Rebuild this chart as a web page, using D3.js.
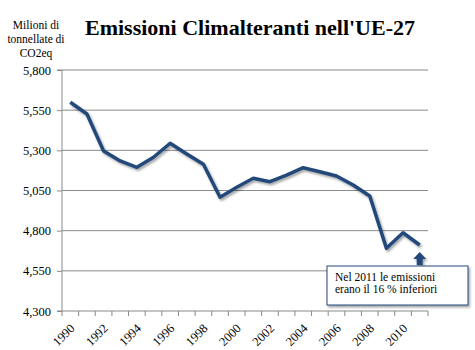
<!DOCTYPE html>
<html>
<head>
<meta charset="utf-8">
<script src="https://cdn.jsdelivr.net/npm/d3@7"></script>
<style>
  body { margin: 0; background: #fff; }
  svg { display: block; }
  svg text { font-family: "Liberation Serif", "Times New Roman", serif; }
</style>
</head>
<body>
<div class="svg_container"></div>
<script>
var years = d3.range(1990, 2012).map(String);
var emissions = [5599, 5526, 5296, 5234, 5194, 5257, 5344, 5277, 5213, 5008, 5070,
                 5126, 5105, 5146, 5192, 5167, 5140, 5084, 5016, 4690, 4787, 4711];
var yTicks = [4300, 4550, 4800, 5050, 5300, 5550, 5800];
var xLabels = ["1990", "1992", "1994", "1996", "1998", "2000", "2002", "2004", "2006", "2008", "2010"];
var titleText = "Emissioni Climalteranti nell'UE-27";
var yTitle = ["Milioni di", "tonnellate di", "CO2eq"];
var note = ["Nel 2011 le emissioni", "erano il 16 % inferiori"];

const WIDTH = 475;
const HEIGHT = 350;
const LEFT = 62, RIGHT = 428, TOP = 70, BOTTOM = 311;
const LINE_COLOR = "#24497a";
const GRID = "#8a8a8a";
const SERIF = '"Liberation Serif", "Times New Roman", serif';

var translate = function (x, y) {
    return "translate(" + x + "," + y + ")";
};

var xScale = d3.scaleBand().domain(years).range([LEFT, RIGHT]);
var xIdx = d3.scaleLinear().domain([0, years.length]).range([LEFT, RIGHT]);
var yScale = d3.scaleLinear().domain([4300, 5800]).range([BOTTOM, TOP]);

var svg = d3.select('.svg_container').append('svg')
    .attr('width', WIDTH)
    .attr('height', HEIGHT)
    .attr('font-family', SERIF);

var defs = svg.append('defs');
var f = defs.append('filter').attr('id', 'shadow')
    .attr('x', '-10%').attr('y', '-10%').attr('width', '130%').attr('height', '130%');
f.append('feDropShadow').attr('dx', 1.5).attr('dy', 2).attr('stdDeviation', 1.3)
    .attr('flood-color', '#000').attr('flood-opacity', 0.35);

// titles
svg.append('text')
    .attr('x', 250).attr('y', 35)
    .attr('text-anchor', 'middle')
    .attr('font-family', SERIF)
    .attr('font-size', 22).attr('font-weight', 'bold')
    .text(titleText);

svg.append('g').selectAll('text').data(yTitle).enter().append('text')
    .attr('x', 36).attr('y', function (d, i) { return 29 + i * 14; })
    .attr('text-anchor', 'middle')
    .attr('font-family', SERIF)
    .attr('font-size', 11.5)
    .text(function (d) { return d; });

// gridlines
svg.append('g').selectAll('line').data(yTicks.slice(1)).enter().append('line')
    .attr('x1', LEFT).attr('x2', RIGHT)
    .attr('y1', function (d) { return yScale(d); })
    .attr('y2', function (d) { return yScale(d); })
    .attr('stroke', GRID).attr('stroke-width', 1);

// y axis
var yAxis = d3.axisLeft(yScale).tickValues(yTicks).tickSize(5).tickPadding(6)
    .tickFormat(d3.format(","));
var gy = svg.append('g').attr('transform', translate(LEFT, 0)).call(yAxis)
    .attr('font-family', SERIF);
gy.select('.domain').attr('stroke', GRID).attr('d', 'M-5,' + TOP + 'H0V' + BOTTOM + 'H-5');
gy.selectAll('.tick line').attr('stroke', GRID);
gy.selectAll('.tick text').attr('font-size', 12.5).attr('fill', '#000');

// x axis
var gx = svg.append('g').attr('transform', translate(0, BOTTOM));
gx.append('line').attr('x1', LEFT).attr('x2', RIGHT).attr('stroke', GRID);
gx.selectAll('line.tk').data(d3.range(years.length + 1)).enter().append('line')
    .attr('class', 'tk')
    .attr('x1', function (d) { return xIdx(d); })
    .attr('x2', function (d) { return xIdx(d); })
    .attr('y1', 0).attr('y2', 5)
    .attr('stroke', GRID);
gx.selectAll('text').data(xLabels).enter().append('text')
    .attr('transform', function (d) {
        return translate(xScale(d) + xScale.bandwidth() / 2 + 2, 15) + ' rotate(-45)';
    })
    .attr('text-anchor', 'end')
    .attr('dy', '0.35em')
    .attr('font-family', SERIF)
    .attr('font-size', 12.5)
    .text(function (d) { return d; });

// line
var line = d3.line()
    .x(function (d, i) { return xScale(years[i]) + xScale.bandwidth() / 2; })
    .y(function (d) { return yScale(d); });

svg.append('path')
    .attr('d', line(emissions))
    .attr('fill', 'none')
    .attr('stroke', LINE_COLOR)
    .attr('stroke-width', 3.5)
    .attr('stroke-linejoin', 'round')
    .attr('filter', 'url(#shadow)');

// arrow under the last point
var last = years[years.length - 1];
var ax = xScale(last) + xScale.bandwidth() / 2;
svg.append('path')
    .attr('d', 'M' + ax + ',252 L' + (ax + 6.5) + ',259 L' + (ax + 3) + ',259 L' + (ax + 3) + ',265 L'
        + (ax - 3) + ',265 L' + (ax - 3) + ',259 L' + (ax - 6.5) + ',259 Z')
    .attr('fill', LINE_COLOR)
    .attr('filter', 'url(#shadow)');

// annotation box
var box = svg.append('g').attr('transform', translate(327, 266));
box.append('rect')
    .attr('width', 141).attr('height', 39)
    .attr('fill', '#fff')
    .attr('stroke', LINE_COLOR).attr('stroke-width', 1)
    .attr('filter', 'url(#shadow)');
box.selectAll('text').data(note).enter().append('text')
    .attr('x', 8).attr('y', function (d, i) { return 15 + i * 12; })
    .attr('font-family', SERIF)
    .attr('font-size', 11.5)
    .text(function (d) { return d; });
</script>
</body>
</html>
